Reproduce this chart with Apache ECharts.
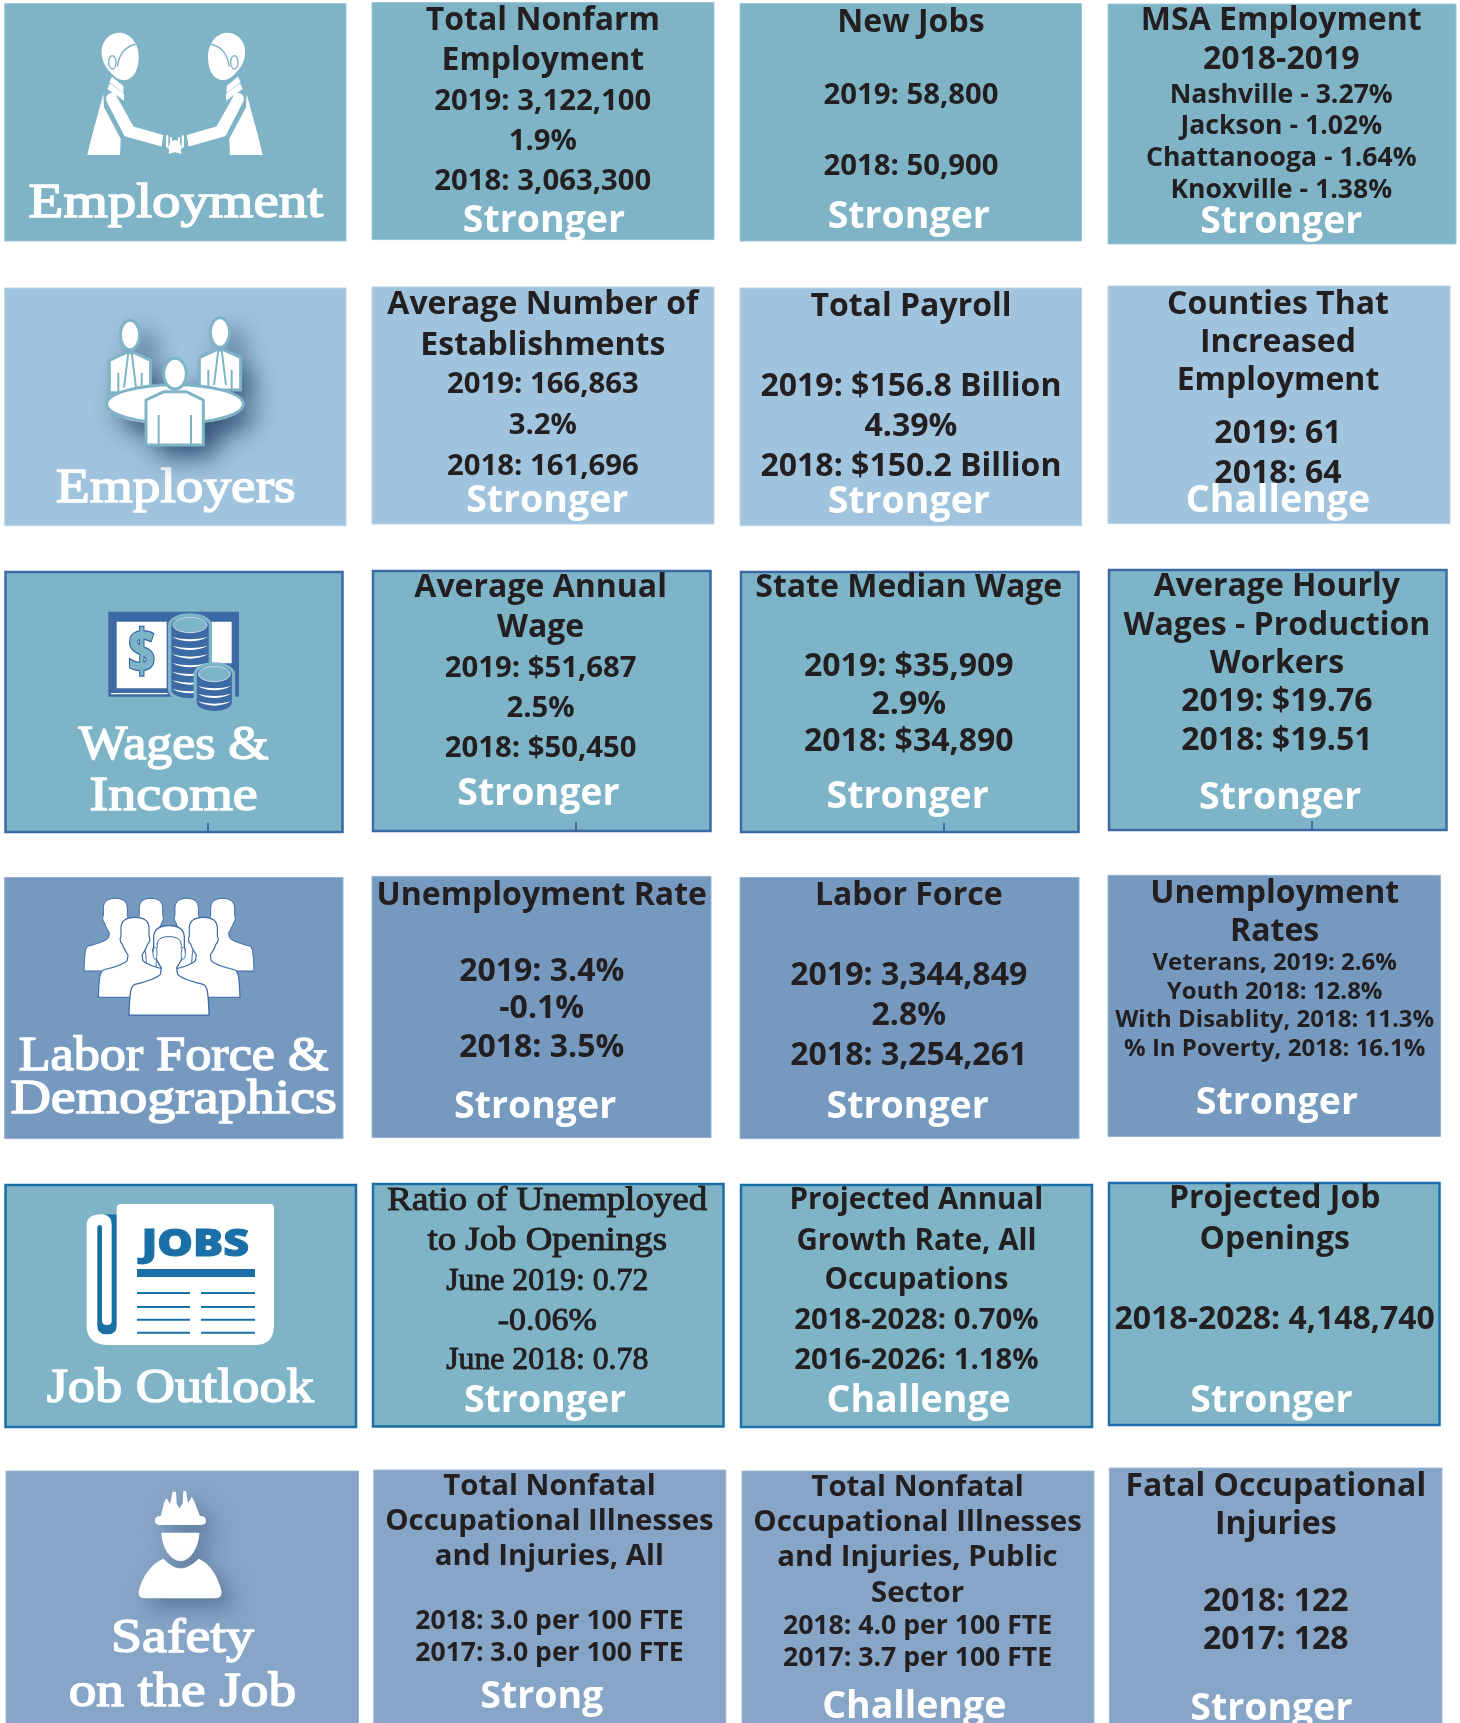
<!DOCTYPE html>
<html>
<head>
<meta charset="utf-8">
<style>
  html, body { margin: 0; padding: 0; background: #fff; overflow: hidden; }
  #main { width: 1460px; height: 1723px; }
</style>
<script src="https://cdn.jsdelivr.net/npm/echarts@6/dist/echarts.min.js"></script>
</head>
<body>
<div id="main"></div>
<script>
// row labels, left column
const rowLabels = [
  ['Employment'], ['Employers'], ['Wages &', 'Income'],
  ['Labor Force &', 'Demographics'], ['Job Outlook'], ['Safety', 'on the Job']
];
// three cells per row, left to right
const cellHeads = [
  ['Total Nonfarm', 'Employment'], ['New Jobs'], ['MSA Employment', '2018-2019'],
  ['Average Number of', 'Establishments'], ['Total Payroll'], ['Counties That', 'Increased', 'Employment'],
  ['Average Annual', 'Wage'], ['State Median Wage'], ['Average Hourly', 'Wages - Production', 'Workers'],
  ['Unemployment Rate'], ['Labor Force'], ['Unemployment', 'Rates'],
  ['Ratio of Unemployed', 'to Job Openings'], ['Projected Annual', 'Growth Rate, All', 'Occupations'], ['Projected Job', 'Openings'],
  ['Total Nonfatal', 'Occupational Illnesses', 'and Injuries, All'], ['Total Nonfatal', 'Occupational Illnesses', 'and Injuries, Public', 'Sector'], ['Fatal Occupational', 'Injuries']
];
const cellValues = [
  ['2019: 3,122,100', '1.9%', '2018: 3,063,300'], ['2019: 58,800', '2018: 50,900'], ['Nashville - 3.27%', 'Jackson - 1.02%', 'Chattanooga - 1.64%', 'Knoxville - 1.38%'],
  ['2019: 166,863', '3.2%', '2018: 161,696'], ['2019: $156.8 Billion', '4.39%', '2018: $150.2 Billion'], ['2019: 61', '2018: 64'],
  ['2019: $51,687', '2.5%', '2018: $50,450'], ['2019: $35,909', '2.9%', '2018: $34,890'], ['2019: $19.76', '2018: $19.51'],
  ['2019: 3.4%', '-0.1%', '2018: 3.5%'], ['2019: 3,344,849', '2.8%', '2018: 3,254,261'], ['Veterans, 2019: 2.6%', 'Youth 2018: 12.8%', 'With Disablity, 2018: 11.3%', '% In Poverty, 2018: 16.1%'],
  ['June 2019: 0.72', '-0.06%', 'June 2018: 0.78'], ['2018-2028: 0.70%', '2016-2026: 1.18%'], ['2018-2028: 4,148,740'],
  ['2018: 3.0 per 100 FTE', '2017: 3.0 per 100 FTE'], ['2018: 4.0 per 100 FTE', '2017: 3.7 per 100 FTE'], ['2018: 122', '2017: 128']
];
const cellStatus = [
  'Stronger', 'Stronger', 'Stronger',
  'Stronger', 'Stronger', 'Challenge',
  'Stronger', 'Stronger', 'Stronger',
  'Stronger', 'Stronger', 'Stronger',
  'Stronger', 'Challenge', 'Stronger',
  'Strong', 'Challenge', 'Stronger'
];

// layout, kept apart from the content. boxes are [x0, y0, x1, y1] in page px, row by row
const boxes = [
  [4.7, 3.6, 346, 241], [372, 2.5, 714, 239.6], [740, 3.6, 1081.5, 241], [1108, 4, 1456, 244],
  [4.7, 288, 346, 525.7], [372, 287, 714, 524], [740, 288, 1081.5, 525.7], [1108, 286, 1450, 523.5],
  [5.5, 572, 342.5, 832], [373, 571, 710.5, 831], [741, 572, 1078.5, 832], [1109, 570, 1446.5, 830],
  [4.7, 877.5, 343, 1138.6], [372, 876.4, 711, 1137.5], [740, 877.5, 1079, 1138.6], [1108, 875.3, 1440.4, 1136.4],
  [5.5, 1185, 356, 1427], [373, 1184, 723.5, 1426.5], [741, 1185, 1092, 1427], [1109, 1183, 1439.5, 1425],
  [6, 1471, 358.5, 1740], [373.8, 1470, 725.8, 1740], [742, 1471, 1094, 1740], [1109.4, 1468, 1442, 1740]
];
const rowFill = ['#7fb4c7', '#a1c4de', '#7db4c7', '#7599bf', '#7fb4c7', '#87a5c6'];
const rowBorder = ['#9cc6d5', '#b7d3e7', '#3b6aa5', '#93b0cf', '#1a70a6', '#9db6d2'];
const rowBorderW = [1, 1, 2.5, 1, 2.5, 1];
// the text rows were measured on the 1329 wide copy, k brings them to page px
const k = 1723 / 1568;
const nudge = 2.7;
const labelCx = [160, 160, 158, 158, 164, 166];
const labelY = [[183], [443], [677, 723], [960, 999], [1262], [1489, 1538]];
const labelW = [[268], [218], [173, 153], [282, 297], [243], [130, 207]];
const cellCx = [494, 829, 1166, 494, 829, 1163, 492, 827, 1162, 493, 827, 1160, 498, 834, 1160, 500, 835, 1161];
const statusCx = [495, 827, 1166, 498, 827, 1163, 490, 826, 1165, 487, 826, 1162, 496, 836, 1157, 493, 832, 1157];
const statusY = [199, 195, 200, 454, 455, 454, 720, 723, 724, 1005, 1005, 1002, 1273, 1273, 1273, 1542, 1551, 1553];
const headY = [
  [17, 53], [18], [17, 52],
  [275, 312], [277], [275, 310, 344],
  [533, 569], [533], [532, 567, 602],
  [813], [813], [811, 846],
  [1091, 1127], [1090, 1127, 1163], [1089, 1126],
  [1350, 1382, 1414], [1351, 1383, 1415, 1448], [1351, 1385]
];
const valueY = [
  [90, 126, 163], [85, 149], [84, 113, 142, 171],
  [348, 385, 422], [350, 386, 422], [392, 429],
  [606, 642, 679], [604, 639, 673], [636, 672],
  [882, 916, 951], [886, 922, 958], [874, 900, 926, 952],
  [1164, 1200, 1236], [1199, 1236], [1199],
  [1473, 1502], [1478, 1507], [1455, 1490]
];
const valueSize = [29.3, 29.3, 26.6, 29.3, 32, 32, 29.3, 32, 32, 32, 32, 24, 32, 29.3, 32, 26.5, 26.6, 32];
const headSize = [32, 32, 32, 32, 32, 32, 32, 32, 32, 32, 32, 32, 33.5, 29.5, 32, 29.4, 29.4, 32];
const statusSize = 37.5;
// cell in the serif face, with the widths of its lines
const serifCell = 12;
const serifHeadW = [291, 218];
const serifValueW = [184, 90, 184];
const bottomTicks = [208, 576, 944, 1312];

const INK = '#231f20';
const SANS = '"Open Sans"';
const SERIF = '"Liberation Serif"';

const chartDom = document.getElementById('main');
const myChart = echarts.init(chartDom);
const measureCtx = document.createElement('canvas').getContext('2d');

function fitScale(str, font, width) {
  measureCtx.font = font;
  return width * k / measureCtx.measureText(str).width;
}

function textEl(api, str, cx, y, font, fill, stretch, stroke) {
  const p = api.coord([cx, y + nudge]);
  const style = { text: str, x: 0, y: 0, font: font, fill: fill, align: 'center', verticalAlign: 'middle' };
  if (stroke) {
    style.stroke = fill;
    style.lineWidth = stroke;
  }
  return { type: 'text', x: p[0], y: p[1], scaleX: stretch || 1, style: style };
}

// one coloured box with its lines
function renderCell(params, api) {
  const i = api.value(0);
  const row = Math.floor(i / 4);
  const col = i % 4;
  const b = boxes[i];
  const p0 = api.coord([b[0], b[1]]);
  const p1 = api.coord([b[2], b[3]]);
  const children = [{
    type: 'rect',
    shape: { x: p0[0], y: p0[1], width: p1[0] - p0[0], height: p1[1] - p0[1] },
    style: { fill: rowFill[row], stroke: rowBorder[row], lineWidth: rowBorderW[row] }
  }];
  if (row === 2) {
    const t0 = api.coord([bottomTicks[col], b[3] - 9]);
    const t1 = api.coord([bottomTicks[col], b[3]]);
    children.push({
      type: 'line',
      shape: { x1: t0[0], y1: t0[1], x2: t1[0], y2: t1[1] },
      style: { stroke: rowBorder[row], lineWidth: 2 }
    });
  }
  if (col === 0) {
    const font = '49px ' + SERIF;
    rowLabels[row].forEach((str, n) => {
      children.push(textEl(api, str, labelCx[row] * k, labelY[row][n] * k, font, '#fff', fitScale(str, font, labelW[row][n]), 1.5));
    });
  } else {
    const c = row * 3 + col - 1;
    if (c === serifCell) {
      const headFont = '33.5px ' + SERIF;
      const valueFont = '32px ' + SERIF;
      cellHeads[c].forEach((str, n) => {
        children.push(textEl(api, str, cellCx[c] * k, headY[c][n] * k, headFont, INK, fitScale(str, headFont, serifHeadW[n]), 1));
      });
      cellValues[c].forEach((str, n) => {
        children.push(textEl(api, str, cellCx[c] * k, valueY[c][n] * k, valueFont, INK, fitScale(str, valueFont, serifValueW[n]), 1));
      });
    } else {
      cellHeads[c].forEach((str, n) => {
        children.push(textEl(api, str, cellCx[c] * k, headY[c][n] * k, 'bold ' + headSize[c] + 'px ' + SANS, INK));
      });
      cellValues[c].forEach((str, n) => {
        children.push(textEl(api, str, cellCx[c] * k, valueY[c][n] * k, 'bold ' + valueSize[c] + 'px ' + SANS, INK));
      });
    }
    children.push(textEl(api, cellStatus[c], statusCx[c] * k, statusY[c] * k, 'bold ' + statusSize + 'px ' + SANS, '#fff'));
  }
  return { type: 'group', children: children };
}

const path = (d, style) => ({ type: 'path', shape: { pathData: d }, style: style });
const ell = (cx, cy, rx, ry, style) => ({ type: 'ellipse', shape: { cx: cx, cy: cy, rx: rx, ry: ry }, style: style });
const box = (x, y, w, h, style) => ({ type: 'rect', shape: { x: x, y: y, width: w, height: h }, style: style });

// handshake, half figure, mirrored for the other side
function handshakeFigure(bg, headShift) {
  const cut = { fill: 'none', stroke: bg, lineWidth: 4 };
  return [
    path('M70 222 C55 280 35 345 22 405 L120 405 L122 356 L72 262 Z', { fill: '#fff' }),
    path('M78 245 C72 232 80 218 95 216 L108 222 L162 318 L252 344 L246 382 L132 350 Z', { fill: '#fff', stroke: bg, lineWidth: 4 }),
    path('M82 207 L132 242 L132 222 L90 190 Z', { fill: '#fff' }),
    path('M88 186 L130 220 L130 198 L96 170 Z', { fill: '#fff' }),
    box(258, 346, 7, 36, { fill: '#fff' }),
    box(270, 352, 6, 30, { fill: '#fff' }),
    path('M262 384 L280 360 L300 366 L304 402 L284 396 Z', { fill: '#fff' }),
    {
      type: 'group',
      x: headShift,
      children: [
        path('M118 38 C150 38 176 70 176 110 C176 150 160 180 130 180 C112 180 98 165 85 150 C68 130 64 110 65 90 C68 55 95 38 118 38 Z', { fill: '#fff' }),
        ell(97, 127, 11, 20, cut),
        path('M112 140 C118 100 135 78 170 72', cut)
      ]
    }
  ];
}

function meetingIcon() {
  const out = { fill: '#fff', stroke: '#7fb4c7', lineWidth: 9, lineJoin: 'round' };
  const line = { fill: 'none', stroke: '#7fb4c7', lineWidth: 6 };
  const shade = { fill: '#fff', shadowBlur: 26, shadowColor: 'rgba(50,80,115,0.95)', shadowOffsetX: 12, shadowOffsetY: 12 };
  const torso = (cx, top) => `M${cx - 62} ${top + 118} L${cx - 12} ${top + 95} L${cx + 12} ${top + 95} L${cx + 62} ${top + 118} L${cx + 62} ${top + 215} L${cx - 62} ${top + 215} Z`;
  const seated = (cx, top) => [
    ell(cx, top + 42, 29, 44, out),
    path(torso(cx, top), out),
    path(`M${cx - 5} ${top + 95} L${cx - 18} ${top + 200} M${cx + 5} ${top + 95} L${cx + 18} ${top + 200} M${cx - 35} ${top + 155} L${cx - 35} ${top + 215} M${cx + 35} ${top + 155} L${cx + 35} ${top + 215}`, line)
  ];
  const frontBody = 'M168 270 L222 245 L288 245 L340 270 L340 405 L168 405 Z';
  return [].concat(
    // shadow pass first, so that it never falls over the figures
    [
      ell(122, 75, 29, 44, shade), path(torso(120, 33), shade),
      ell(390, 67, 29, 44, shade), path(torso(390, 25), shade),
      ell(255, 285, 205, 60, shade), path(frontBody, shade)
    ],
    seated(120, 33),
    seated(390, 25),
    [
      ell(255, 282, 205, 58, out),
      ell(255, 191, 34, 46, out),
      path(frontBody, out),
      path('M206 315 L206 405 M303 315 L303 405', line)
    ]
  );
}

function coinStack(cx, top, bottom, w, ry, step) {
  const blue = '#3b6aa5';
  const l = cx - w / 2;
  const r = cx + w / 2;
  const els = [
    path(`M${l} ${top} A${w / 2} ${ry} 0 0 1 ${r} ${top} L${r} ${bottom - ry} A${w / 2} ${ry} 0 0 1 ${l} ${bottom - ry} Z`, { fill: blue, stroke: '#7db4c7', lineWidth: 10 }),
    ell(cx, top, w / 2 - 10, ry - 7, { fill: '#7db4c7', stroke: '#fff', lineWidth: 2 })
  ];
  for (let y = top + ry + 6; y < bottom - ry; y += step) {
    els.push(path(`M${l + 7} ${y} Q${cx} ${y + 26} ${r - 7} ${y} Q${cx} ${y + 14} ${l + 7} ${y} Z`, { fill: '#fff' }));
  }
  return els;
}

function moneyIcon() {
  const blue = '#3b6aa5';
  return [].concat(
    [
      box(40, 35, 392, 255, { fill: blue }),
      box(48, 279, 170, 4, { fill: '#fff' }),
      box(65, 65, 150, 200, { fill: '#fff' }),
      box(350, 65, 60, 125, { fill: '#fff' }),
      {
        type: 'text',
        x: 140,
        y: 165,
        scaleX: 0.82,
        style: { text: '$', x: 0, y: 0, font: 'bold 176px ' + SANS, fill: '#7db4c7', stroke: blue, lineWidth: 8, align: 'center', verticalAlign: 'middle' }
      }
    ],
    coinStack(285, 75, 300, 122, 30, 26),
    coinStack(358, 222, 338, 115, 30, 23)
  );
}

function crowdIcon() {
  const bust = 'M-36 30 C-36 8 -20 0 0 0 C20 0 36 8 36 30 L36 52 C40 58 38 68 33 72 C30 85 22 95 18 103 L20 118 C28 128 60 138 80 143 C90 148 92 160 94 218 L-94 218 C-92 160 -90 148 -80 143 C-60 138 -28 128 -20 118 L-18 103 C-22 95 -30 85 -33 72 C-38 68 -40 58 -36 52 Z';
  const st = { fill: '#fff', stroke: '#3b6aa5', lineWidth: 3 };
  const person = (x, y, sx, sy) => ({ type: 'group', x: x, y: y, scaleX: sx, scaleY: sy, children: [path(bust, st)] });
  const hair = { fill: 'none', stroke: '#3b6aa5', lineWidth: 3 };
  return [
    person(243, 40, 0.98, 1), person(350, 40, 0.98, 1),
    person(136, 40, 1, 1), person(458, 40, 1, 1),
    person(195, 97, 1.17, 1.1), person(400, 97, 1.17, 1.1),
    person(297, 122, 1.28, 1.23),
    path('M262 190 C258 165 270 155 297 155 C325 155 337 165 333 190', hair),
    ell(255, 205, 6, 18, st), ell(340, 205, 6, 18, st)
  ];
}

function jobsIcon() {
  const blue = '#1a70a6';
  const els = [
    path('M125 40 Q125 27 140 27 L585 27 Q597 27 597 40 L597 390 Q597 450 540 450 L100 450 Q35 450 35 390 L35 90 Q35 58 80 58 L125 58 Z', { fill: '#fff' }),
    path('M85 58 L125 58 L125 392 Q125 418 96 418 Q67 418 67 392 L67 100 Q67 90 75 90 Q81 90 81 100 L81 378 Q81 390 96 390 Q110 390 110 378 L110 90 Q110 62 85 58 Z', { fill: blue }),
    {
      type: 'text',
      x: 361,
      y: 150,
      scaleX: 1.2,
      style: { text: 'JOBS', x: 0, y: 0, font: '800 112px ' + SANS, fill: blue, stroke: blue, lineWidth: 3, align: 'center', verticalAlign: 'middle' }
    },
    box(186, 222, 354, 24, { fill: blue })
  ];
  [294, 336, 374, 413].forEach(y => {
    els.push(box(186, y - 3, 159, 6, { fill: blue }));
    els.push(box(378, y - 3, 162, 6, { fill: blue }));
  });
  return els;
}

function workerIcon() {
  const shade = { shadowBlur: 20, shadowColor: 'rgba(60,85,120,0.55)', shadowOffsetX: 10, shadowOffsetY: 10 };
  return [
    path('M105 122 Q105 108 122 108 C130 85 130 65 140 55 L150 72 L158 35 L168 35 L170 70 L178 85 L188 70 L190 33 L198 33 L204 70 L215 50 C225 65 235 95 240 108 Q258 108 258 122 Q258 135 240 135 L120 135 Q105 135 105 122 Z', Object.assign({ fill: '#fff' }, shade)),
    path('M124 158 L238 158 C236 205 210 243 182 243 C152 243 126 205 124 158 Z', Object.assign({ fill: '#fff' }, shade)),
    path('M130 236 C150 255 165 265 182 265 C200 265 220 252 236 236 C270 250 295 290 305 335 Q305 355 285 355 L75 355 Q55 355 56 335 C65 290 95 250 130 236 Z', Object.assign({ fill: '#fff' }, shade))
  ];
}

const iconOrigin = [[80, 20], [90, 310], [95, 600], [70, 885], [75, 1195], [120, 1480]];

function renderIcon(params, api) {
  const row = api.value(0);
  const p = api.coord(iconOrigin[row]);
  let children;
  if (row === 0) {
    children = handshakeFigure(rowFill[0], 0).concat([
      { type: 'group', x: 570, scaleX: -1, children: handshakeFigure(rowFill[0], 10) }
    ]);
  } else if (row === 1) {
    children = meetingIcon();
  } else if (row === 2) {
    children = moneyIcon();
  } else if (row === 3) {
    children = crowdIcon();
  } else if (row === 4) {
    children = jobsIcon();
  } else {
    children = workerIcon();
  }
  // icon paths were traced on 3x crops
  return { type: 'group', x: p[0], y: p[1], scaleX: 1 / 3, scaleY: 1 / 3, children: children };
}

myChart.setOption({
  animation: false,
  backgroundColor: '#fff',
  grid: { left: 0, right: 0, top: 0, bottom: 0 },
  xAxis: { type: 'value', min: 0, max: 1460, show: false },
  yAxis: { type: 'value', min: 0, max: 1723, inverse: true, show: false },
  series: [
    {
      name: 'cells',
      type: 'custom',
      coordinateSystem: 'cartesian2d',
      clip: false,
      renderItem: renderCell,
      encode: { x: 0, y: 0 },
      data: boxes.map((b, i) => [i])
    },
    {
      name: 'icons',
      type: 'custom',
      coordinateSystem: 'cartesian2d',
      clip: false,
      renderItem: renderIcon,
      encode: { x: 0, y: 0 },
      data: rowLabels.map((r, i) => [i])
    }
  ]
});
</script>
</body>
</html>
